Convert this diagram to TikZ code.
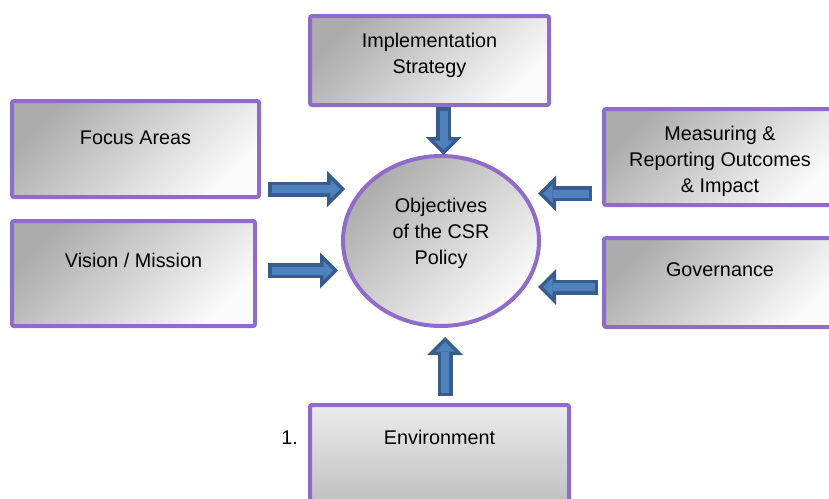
\documentclass[tikz,border=0pt]{standalone}
\usepackage{fontspec}
\setmainfont{Liberation Sans}
\usepackage{tikz}
\usetikzlibrary{arrows.meta}
\usetikzlibrary{shapes.geometric}

\definecolor{boxedge}{RGB}{142,108,200}
\definecolor{arrowedge}{RGB}{56,93,138}
\definecolor{arrowfill}{RGB}{79,129,189}
\definecolor{shadedark}{RGB}{172,172,172}
\definecolor{shadelight}{RGB}{250,250,250}
\definecolor{envlight}{RGB}{236,236,236}
\definecolor{envdark}{RGB}{192,192,192}

\begin{document}
\begin{tikzpicture}[x=1pt,y=-1pt,font=\fontsize{19.8}{26}\selectfont,
	box/.style={rectangle,draw=boxedge,line width=4pt,rounded corners=2pt,inner sep=0pt,align=center,top color=shadedark,bottom color=shadelight,shading angle=45},
	oval/.style={ellipse,draw=boxedge,line width=4pt,inner sep=0pt,align=center,top color=shadedark,bottom color=shadelight,shading angle=45},
	barrow/.style={draw=arrowedge,line width=15pt,-{Triangle[length=18pt,width=36pt,line width=0pt]},
		postaction={draw=arrowfill,line width=8pt,shorten <=3.5pt,shorten >=5pt,-{Triangle[length=9.5pt,width=19pt,line width=0pt]}}}]
	
	\useasboundingbox (0,0) rectangle (829,498);
	
	% centre
	\node[oval,minimum width=196pt,minimum height=170pt,text height=72pt,text depth=26pt] (obj) at (441,241) {Objectives\\of the CSR\\Policy};
	
	% boxes round it
	\node[box,minimum width=239pt,text height=57pt,text depth=32pt] (impl) at (429.5,60.5) {Implementation\\Strategy};
	\node[box,minimum width=247pt,text height=43pt,text depth=53pt] (focus) at (135.5,149) {Focus Areas};
	\node[box,minimum width=243pt,text height=46pt,text depth=59pt] (vision) at (133.5,273.5) {Vision / Mission};
	\node[box,minimum width=232pt,text height=83pt,text depth=13pt] (measure) at (720,157) {Measuring \&\\Reporting Outcomes\\\& Impact};
	\node[box,minimum width=232pt,text height=38pt,text depth=51pt] (gov) at (720,282.5) {Governance};
	\node[box,minimum width=259pt,text height=39pt,text depth=59pt,top color=envlight,bottom color=envdark,shading angle=0] (env) at (439.5,454) {Environment};
	\node[anchor=base east,inner sep=0pt] (num) at ([xshift=-10pt]env.base west) {1.};
	
	% block arrows
	\draw[barrow] ([xshift=14pt]impl.south) -- ([xshift=2.5pt,yshift=-1pt]obj.north);
	\draw[barrow] ([xshift=7pt,yshift=-40pt]focus.east) -- ([xshift=4pt,yshift=52pt]obj.west);
	\draw[barrow] ([xshift=11pt,yshift=3pt]vision.east) -- ([xshift=-3pt,yshift=-29.5pt]obj.west);
	\draw[barrow] ([xshift=-10pt,yshift=-36.5pt]measure.west) -- ([xshift=-3pt,yshift=47.5pt]obj.east);
	\draw[barrow] ([xshift=-4pt,yshift=-4.5pt]gov.west) -- ([xshift=-3pt,yshift=-46pt]obj.east);
	\draw[barrow] ([xshift=5.5pt,yshift=7pt]env.north) -- ([xshift=4pt,yshift=-9pt]obj.south);
	
\end{tikzpicture}
\end{document}
